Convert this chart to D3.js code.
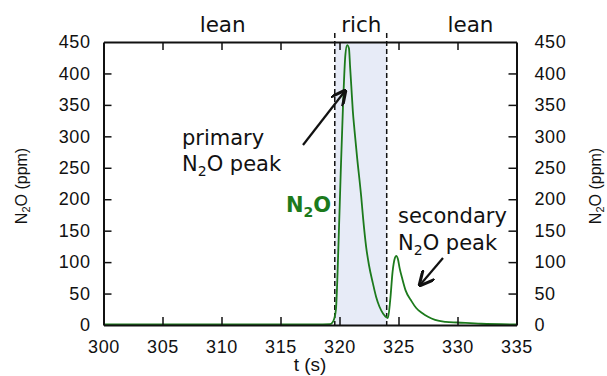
<!DOCTYPE html>
<html><head><meta charset="utf-8">
<script src="https://cdn.jsdelivr.net/npm/d3@7"></script>
<style>body{margin:0;background:#fff}svg{display:block}</style>
</head><body>
<svg id="c" width="607" height="376"></svg>
<script>
const times = [300,305,310,315,318,319.2,319.4,319.55,319.7,319.9,320.1,320.3,320.5,320.65,320.8,320.9,321.0,321.13,321.27,321.5,321.84,322.0,322.26,322.5,322.82,323.1,323.39,323.7,324.0,324.1,324.3,324.5,324.7,324.8,324.95,325.1,325.3,325.6,326.1,326.5,327.0,327.5,328.1,329,330,332,335];
const n2o   = [1,1,1,1,1,1.5,4,10,25,120,240,350,430,445,440,410,380,340,310,265,204,170,124,95,67,45,29,18,12,11,40,85,107,110,105,90,75,55,38,27,19,13,8,5,4,2,1];
const xTicks = [300,305,310,315,320,325,330,335];
const yTicks = [0,50,100,150,200,250,300,350,400,450];
const richPhase = [319.6,324.0];
const phaseLabels = [{t:310.1,label:"lean"},{t:321.85,label:"rich"},{t:331.1,label:"lean"}];

const svg = d3.select("#c");
const L=103.5,R=516.5,T=42,B=325;
const x = d3.scaleLinear().domain([300,335]).range([L,R]);
const y = d3.scaleLinear().domain([0,450]).range([B,T]);

// shading
svg.append("rect").attr("x",x(richPhase[0])).attr("y",T).attr("width",x(richPhase[1])-x(richPhase[0])).attr("height",B-T).attr("fill","#e7ebf7");

// dashed lines
richPhase.forEach(t=>{
  svg.append("line").attr("x1",x(t)).attr("x2",x(t)).attr("y1",33).attr("y2",B).attr("stroke","#111").attr("stroke-width",1.5).attr("stroke-dasharray","5,3");
});

// curve
const line = d3.line().x((d,i)=>x(times[i])).y(d=>y(d)).curve(d3.curveMonotoneX);
svg.append("path").datum(n2o).attr("d",line).attr("fill","none").attr("stroke","#1c7a1c").attr("stroke-width",1.8);

// axes
const tickLen=-8;
const tf = "Liberation Sans, Arial, sans-serif";
const gb = svg.append("g").attr("transform",`translate(0,${B})`).call(d3.axisBottom(x).tickValues(xTicks).tickSizeInner(tickLen).tickSizeOuter(0).tickPadding(15));
const gt = svg.append("g").attr("transform",`translate(0,${T})`).call(d3.axisTop(x).tickValues(xTicks).tickSizeInner(tickLen).tickSizeOuter(0).tickFormat(""));
const gl = svg.append("g").attr("transform",`translate(${L},0)`).call(d3.axisLeft(y).tickValues(yTicks).tickSizeInner(tickLen).tickSizeOuter(0).tickPadding(13));
const gr = svg.append("g").attr("transform",`translate(${R},0)`).call(d3.axisRight(y).tickValues(yTicks).tickSizeInner(tickLen).tickSizeOuter(0).tickPadding(18));
[gb,gt,gl,gr].forEach(g=>{
  g.selectAll("path.domain").attr("stroke","#111").attr("stroke-width",2);
  g.selectAll(".tick line").attr("stroke","#111").attr("stroke-width",1.5);
  g.selectAll("text").attr("font-family",tf).attr("font-size",18).attr("letter-spacing","0.6px").attr("fill","#111");
});
gt.selectAll(".tick").filter(d=>d===300||d===335).select("line").remove();
gb.selectAll(".tick").filter(d=>d===300||d===335).select("line").remove();
gl.selectAll(".tick").filter(d=>d===0||d===450).select("line").remove();
gr.selectAll(".tick").filter(d=>d===0||d===450).select("line").remove();

// axis titles
svg.append("text").attr("x",310).attr("y",371).attr("text-anchor","middle").attr("font-family",tf).attr("font-size",19).attr("fill","#111").text("t (s)");
function yTitle(cx){
  const t = svg.append("text").attr("transform",`translate(${cx},186) rotate(-90)`).attr("text-anchor","middle").attr("font-family",tf).attr("font-size",16).attr("fill","#111");
  t.append("tspan").text("N");
  t.append("tspan").attr("font-size",11).attr("dy",3).text("2");
  t.append("tspan").attr("dy",-3).text("O (ppm)");
}
yTitle(27); yTitle(601);

// phase labels
const af = "DejaVu Sans, Verdana, sans-serif";
phaseLabels.forEach(p=>{
  svg.append("text").attr("x",x(p.t)).attr("y",32).attr("text-anchor","middle").attr("font-family",af).attr("font-size",21.5).attr("fill","#111").text(p.label);
});

// annotations
function n2oText(xx,yy,extra,opts){
  const t = svg.append("text").attr("x",xx).attr("y",yy).attr("font-family",af).attr("font-size",21).attr("fill",opts.fill||"#111").attr("font-weight",opts.bold?"bold":"normal");
  t.append("tspan").text("N");
  t.append("tspan").attr("font-size",14).attr("dy",5).text("2");
  t.append("tspan").attr("dy",-5).text("O"+extra);
  return t;
}
svg.append("text").attr("x",182).attr("y",145).attr("font-family",af).attr("font-size",21).attr("fill","#111").text("primary");
n2oText(182,171," peak",{});
n2oText(286,212,"",{fill:"#1c7a1c",bold:true});
svg.append("text").attr("x",398).attr("y",223).attr("font-family",af).attr("font-size",21).attr("fill","#111").text("secondary");
n2oText(398,250," peak",{});

svg.append("defs").append("marker").attr("id","ah").attr("viewBox","0 0 10 10").attr("refX",9).attr("refY",5).attr("markerWidth",7).attr("markerHeight",7).attr("orient","auto")
  .append("path").attr("d","M0,0 L10,5 L0,10").attr("fill","none").attr("stroke","#111").attr("stroke-width",2);
svg.append("line").attr("x1",303).attr("y1",145).attr("x2",345).attr("y2",91).attr("stroke","#111").attr("stroke-width",2.2).attr("marker-end","url(#ah)");
svg.append("line").attr("x1",443).attr("y1",258).attr("x2",420).attr("y2",285).attr("stroke","#111").attr("stroke-width",2.2).attr("marker-end","url(#ah)");
</script>
</body></html>
